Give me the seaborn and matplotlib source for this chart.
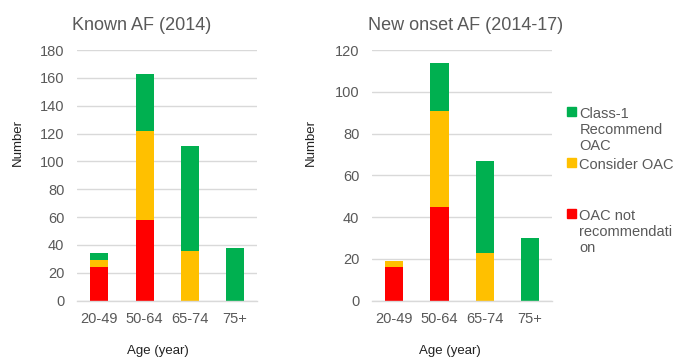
import numpy as np
import matplotlib
matplotlib.use("Agg")
import matplotlib.pyplot as plt
import seaborn as sns

# Age groups and patient counts per OAC recommendation class
age_groups = ["20-49", "50-64", "65-74", "75+"]

known_not_recommended = [24, 58, 0, 0]
known_consider = [5, 64, 36, 0]
known_class1 = [5, 41, 75, 38]

new_not_recommended = [16, 45, 0, 0]
new_consider = [3, 46, 23, 0]
new_class1 = [0, 23, 44, 30]

titles = ["Known AF (2014)", "New onset AF (2014-17)"]
legend_labels = ["Class-1\nRecommend\nOAC", "Consider OAC\n\n", "OAC not\nrecommendati\non"]

GREEN = "#00B050"
YELLOW = "#FFC000"
RED = "#FF0000"
GREY_TEXT = "#595959"
GRID = "#D9D9D9"

sns.set_theme(style="white")
plt.rcParams["font.family"] = ["Liberation Sans", "DejaVu Sans"]

fig = plt.figure(figsize=(6.75, 3.59), dpi=100)
ax1 = fig.add_axes([0.114, 0.1624, 0.267, 0.6983])
ax2 = fig.add_axes([0.551, 0.1624, 0.267, 0.6983])


def stacked(ax, red, yellow, green, ymax, title, pos):
    red = np.asarray(red)
    yellow = np.asarray(yellow)
    green = np.asarray(green)
    tops = [red + yellow + green, red + yellow, red]
    colors = [GREEN, YELLOW, RED]
    for vals, col in zip(tops, colors):
        sns.barplot(x=age_groups, y=vals, color=col, saturation=1,
                    width=0.4, ax=ax, linewidth=0, edgecolor="none")
    ax.set_xlim(-0.5, len(age_groups) - 0.5)
    ax.set_ylim(0, ymax)
    ax.set_yticks(np.arange(0, ymax + 1, 20))
    ax.yaxis.grid(True, color=GRID, lw=1)
    ax.xaxis.grid(False)
    ax.set_axisbelow(True)
    for s in ["top", "left", "right"]:
        ax.spines[s].set_visible(False)
    ax.spines["bottom"].set_color(GRID)
    ax.spines["bottom"].set_linewidth(1)
    ax.tick_params(axis="both", length=0, colors=GREY_TEXT, labelsize=10.5)
    ax.tick_params(axis="x", pad=8)
    ax.tick_params(axis="y", pad=9)
    ax.set_ylabel("Number", fontsize=9.5, color="#222222")
    ax.set_xlabel("Age (year)", fontsize=9.5, color="#222222")
    ax.yaxis.set_label_coords(pos[1], 0.633)
    ax.xaxis.set_label_coords(pos[2], -0.178)
    ax.text(pos[0], 1.096, title, transform=ax.transAxes, ha="center",
            va="center", fontsize=13, color=GREY_TEXT)


stacked(ax1, known_not_recommended, known_consider, known_class1, 180,
        titles[0], (0.36, -0.294, 0.45))
stacked(ax2, new_not_recommended, new_consider, new_class1, 120,
        titles[1], (0.517, -0.305, 0.433))

handles = [plt.Rectangle((0, 0), 1, 1, color=c) for c in (GREEN, YELLOW, RED)]
leg = fig.legend(handles, legend_labels, loc="upper left",
                 bbox_to_anchor=(567 / 675, 1 - 107 / 359), frameon=False,
                 fontsize=10.5, borderpad=0, borderaxespad=0,
                 handlelength=0.6, handleheight=0.6, handletextpad=0.25,
                 labelspacing=0.3, labelcolor=GREY_TEXT)
# align each marker with the first line of its label
for col in leg._legend_handle_box.get_children():
    for row in col.get_children():
        row.align = "top"

fig.savefig("out.png", dpi=100)
